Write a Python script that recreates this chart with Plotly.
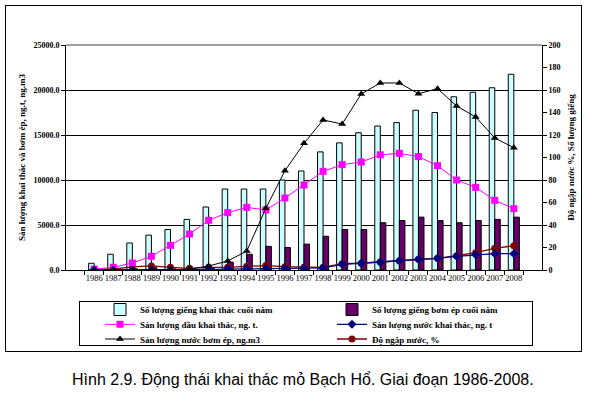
import plotly.graph_objects as go

years = [str(y) for y in range(1986, 2009)]
prod_wells = [6, 14, 24, 31, 36, 45, 56, 72, 72, 72, 80, 88, 105, 113, 122, 128, 131, 142, 140, 154, 158, 162, 174]
inj_wells = [0, 0, 1, 2, 1, 1, 2, 7, 14, 21, 20, 23, 30, 36, 36, 42, 44, 47, 44, 42, 44, 45, 47]
oil = [100, 300, 780, 1520, 2740, 4000, 5520, 6370, 6960, 6670, 8000, 9440, 10960, 11700, 12000, 12800, 12960, 12600, 11590, 10000, 9180, 7740, 6810]
water_prod = [0, 0, 0, 0, 0, 0, 50, 100, 150, 150, 170, 200, 230, 630, 740, 850, 1030, 1190, 1300, 1520, 1700, 1810, 1810]
water_inj = [0, 0, 0, 0, 0, 100, 440, 1000, 2110, 6850, 11030, 14070, 16670, 16220, 19560, 20780, 20780, 19590, 20150, 18220, 17000, 14670, 13590]
water_cut = [0.3, 0.9, 2.7, 3.6, 2.4, 1.5, 2.4, 2.4, 3.3, 3.9, 3.0, 2.4, 2.4, 5.6, 6.0, 7.1, 8.0, 9.5, 10.4, 12.7, 15.4, 19.3, 21.6]

W, H = 589, 398
L, R, T, B = 66, 47, 45, 128
pw, ph = W - L - R, H - T - B

def px(x):
    return (x - L) / pw

def py(y):
    return (H - B - y) / ph

SERIF = "Liberation Serif"
lfont = dict(family=SERIF, size=9, color="black", weight="bold")

fig = go.Figure()
fig.add_trace(go.Bar(x=years, y=prod_wells, name="Số lượng giếng khai thác cuối năm",
                     marker=dict(color="#CCFFFF", line=dict(color="black", width=1)),
                     yaxis="y", legend="legend"))
fig.add_trace(go.Bar(x=years, y=inj_wells, name="Số lượng giếng bơm ép cuối năm",
                     marker=dict(color="#660066", line=dict(color="black", width=1)),
                     yaxis="y", legend="legend"))
fig.add_trace(go.Scatter(x=years, y=oil, name="Sản lượng dầu khai thác, ng. t.", mode="lines+markers",
                         line=dict(color="#FF00FF", width=1),
                         marker=dict(symbol="square", size=7, color="#FF00FF"),
                         yaxis="y2", legend="legend2"))
fig.add_trace(go.Scatter(x=years, y=water_prod, name="Sản lượng nước khai thác, ng. t", mode="lines+markers",
                         line=dict(color="#000080", width=1.3),
                         marker=dict(symbol="diamond", size=7, color="#000080"),
                         yaxis="y2", legend="legend2"))
fig.add_trace(go.Scatter(x=years, y=water_inj, name="Sản lượng nước bơm ép, ng.m3", mode="lines+markers",
                         line=dict(color="black", width=1),
                         marker=dict(symbol="triangle-up", size=7, color="black"),
                         yaxis="y2", legend="legend3"))
fig.add_trace(go.Scatter(x=years, y=water_cut, name="Độ ngập nước, %", mode="lines+markers",
                         line=dict(color="#800000", width=1.3),
                         marker=dict(symbol="circle", size=7, color="#800000"),
                         yaxis="y", legend="legend3"))

leg_common = dict(orientation="h", entrywidth=187, entrywidthmode="pixels",
                  xanchor="left", yanchor="middle", x=px(100),
                  bgcolor="rgba(0,0,0,0)", borderwidth=0, font=lfont,
                  traceorder="normal", itemclick=False)


def frame(x0, y0, x1, y1):
    return dict(text=".", xref="paper", yref="paper",
                x=px((x0 + x1) / 2), y=py((y0 + y1) / 2),
                xanchor="center", yanchor="middle", showarrow=False,
                width=x1 - x0 - 2, height=y1 - y0 - 2,
                bordercolor="black", borderwidth=1, borderpad=0,
                bgcolor="rgba(0,0,0,0)", font=dict(size=8, color="rgba(0,0,0,0)"))


fig.update_layout(
    width=W, height=H,
    margin=dict(l=L, r=R, t=T, b=B),
    paper_bgcolor="white", plot_bgcolor="white",
    barmode="group", bargap=0.42, bargroupgap=0,
    showlegend=True,
    legend=dict(y=py(309.5), **leg_common),
    legend2=dict(y=py(324.3), **leg_common),
    legend3=dict(y=py(339), **leg_common),
    xaxis=dict(type="category", showline=True, linecolor="black", linewidth=1,
               ticks="outside", ticklen=4, tickcolor="black", tickson="boundaries",
               tickfont=dict(family=SERIF, size=8.5, color="black"), showgrid=False,
               tickangle=0),
    yaxis=dict(side="right", range=[0, 200], dtick=20, showgrid=False,
               showline=True, linecolor="black", linewidth=1, ticks="outside", ticklen=4,
               tickcolor="black", tickfont=dict(family=SERIF, size=8, color="black", weight="bold"),
               title=dict(text="Độ ngập nước %, Số lượng giếng", standoff=8,
                          font=dict(family=SERIF, size=9, color="black", weight="bold")),
               zeroline=False),
    yaxis2=dict(side="left", overlaying="y", range=[0, 25000], dtick=5000, tickformat=".1f",
                showgrid=True, gridcolor="black", gridwidth=1,
                showline=True, linecolor="black", linewidth=1, ticks="outside", ticklen=4,
                tickcolor="black", tickfont=dict(family=SERIF, size=8, color="black", weight="bold"),
                title=dict(text="Sản lượng khai thác và bơm ép, ng.t, ng.m3", standoff=6,
                           font=dict(family=SERIF, size=9, color="black", weight="bold")),
                zeroline=False),
    annotations=[
        dict(text="Hình 2.9. Động thái khai thác mỏ Bạch Hổ. Giai đoạn 1986-2008.",
             xref="paper", yref="paper", x=px(303), y=py(379), xanchor="center", yanchor="middle",
             showarrow=False, font=dict(family="Liberation Sans", size=16, color="black")),
        frame(5, 5, 582, 352),
        frame(79, 301, 533, 346),
    ],
)

fig.add_shape(type="line", xref="paper", yref="paper", x0=0, x1=1, y0=1, y1=1,
              line=dict(color="rgb(128,128,128)", width=1.5))

fig.write_html("out.html", config={"displayModeBar": False},
               post_script="document.body.style.margin='0';document.body.style.overflow='hidden';")
